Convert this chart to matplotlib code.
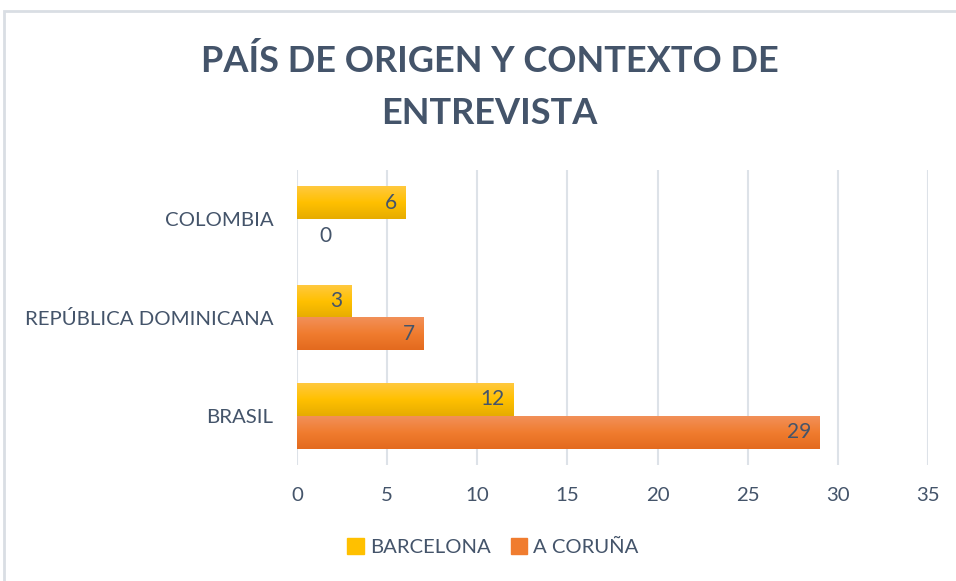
## Pais de origen y contexto de entrevista
import matplotlib.pyplot as plt
import numpy as np
from matplotlib.patches import Rectangle
from matplotlib.colors import LinearSegmentedColormap

plt.rcParams['font.family'] = ['Lato', 'DejaVu Sans']

categorias = ['BRASIL', 'REPÚBLICA DOMINICANA', 'COLOMBIA']
barcelona = [12, 3, 6]
coruna = [29, 7, 0]
series = ['BARCELONA', 'A CORUÑA']
xticks = [0, 5, 10, 15, 20, 25, 30, 35]

texto = '#44546A'
grad_bcn = LinearSegmentedColormap.from_list('bcn', ['#E6AC00', '#FFC000', '#FFC93F'])
grad_cor = LinearSegmentedColormap.from_list('cor', ['#E36A1E', '#F07C2F', '#F29059'])

fig = plt.figure(figsize=(9.56, 5.81), dpi=100)
# chart area border
fig.patches.append(Rectangle((4 / 956, -0.01), 1.0, 1 - 11 / 581 + 0.01, transform=fig.transFigure,
                             fill=False, edgecolor='#D9DEE4', linewidth=2))
ax = fig.add_axes([297 / 956, 1 - 465 / 581, (928 - 297) / 956, (465 - 170) / 581])

y = np.arange(len(categorias))
h = 0.335
grad = np.linspace(0, 1, 256).reshape(-1, 1)

def gradient_bars(vals, pos, cmap):
    bars = ax.barh(pos, vals, height=h, color='none', edgecolor='none')
    for b in bars:
        x0, y0 = b.get_x(), b.get_y()
        w, hh = b.get_width(), b.get_height()
        if w <= 0:
            continue
        ax.imshow(grad, cmap=cmap, aspect='auto', extent=(x0, x0 + w, y0, y0 + hh),
                  origin='lower', zorder=2)
    return bars

b1 = gradient_bars(barcelona, y + h / 2, grad_bcn)
b2 = gradient_bars(coruna, y - h / 2, grad_cor)

for bars, vals in [(b1, barcelona), (b2, coruna)]:
    for b, v in zip(bars, vals):
        yc = b.get_y() + b.get_height() / 2
        if v == 0:
            ax.annotate(str(v), (v, yc), xytext=(16, 0), textcoords='offset points',
                        ha='left', va='center', fontsize=15, color=texto, zorder=3)
        else:
            ax.annotate(str(v), (v, yc), xytext=(-6, 0), textcoords='offset points',
                        ha='right', va='center', fontsize=15, color=texto, zorder=3)

ax.set_xlim(0, 35)
ax.set_ylim(-0.5, 2.5)
ax.set_xticks(xticks)
ax.set_yticks(y)
ax.set_yticklabels(categorias)
ax.tick_params(axis='both', length=0, labelsize=14.7, labelcolor=texto)
ax.tick_params(axis='y', pad=17)
ax.tick_params(axis='x', pad=16)
ax.grid(axis='x', color='#DDE2E8', linewidth=1.5, zorder=0)
ax.set_axisbelow(True)
for s in ax.spines.values():
    s.set_visible(False)

fig.text(0.512, 1 - 87 / 581, 'PAÍS DE ORIGEN Y CONTEXTO DE\nENTREVISTA', ha='center', va='center',
         fontsize=26, fontweight='bold', color=texto, linespacing=1.7)

# legend
handles = [Rectangle((0, 0), 1, 1, color='#FFC000'), Rectangle((0, 0), 1, 1, color='#F07C2F')]
fig.legend(handles, series, loc='center', bbox_to_anchor=(493 / 956, 1 - 547 / 581), ncol=2,
           frameon=False, fontsize=14.6, labelcolor=texto, handlelength=0.8, handleheight=0.8,
           handletextpad=0.3, columnspacing=1.0)

fig.savefig('out.png', dpi=100)
